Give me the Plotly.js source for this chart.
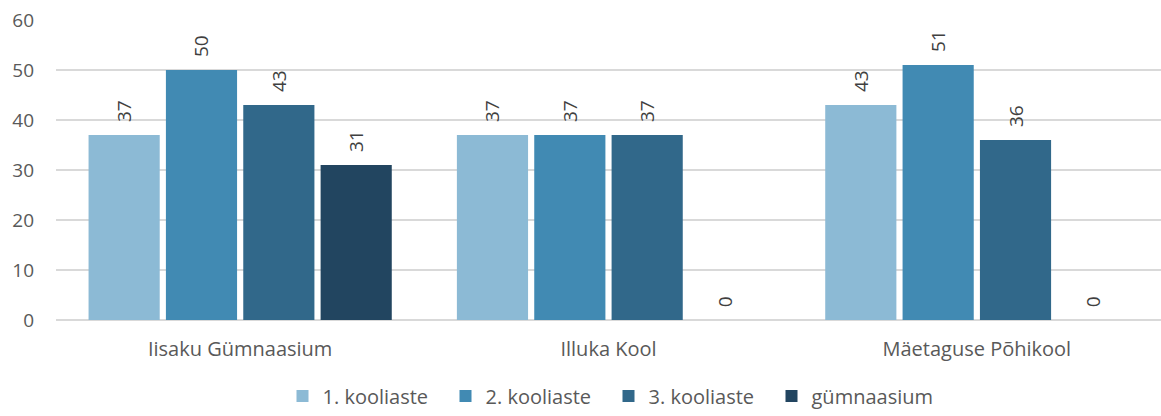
<!DOCTYPE html>
<html><head><meta charset="utf-8">
<script src="https://cdn.plot.ly/plotly-3.0.1.min.js"></script>
<style>html,body{margin:0;padding:0;background:#fff}#c{width:1161px;height:416px}</style>
</head><body><div id="c"></div>
<script>
const categories = ["Iisaku Gümnaasium", "Illuka Kool", "Mäetaguse Põhikool"];
const seriesNames = ["1. kooliaste", "2. kooliaste", "3. kooliaste", "gümnaasium"];
const s1 = [37, 37, 43];
const s2 = [50, 37, 51];
const s3 = [43, 37, 36];
const s4 = [31, 0, 0];
const colors = ["#8cbad5", "#418ab3", "#31688a", "#224560"];
const values = [s1, s2, s3, s4];
const font = "'Open Sans', sans-serif";
const pad = "\u00a0\u00a0";
const traces = values.map((v, i) => ({
  type: "bar", x: categories, y: v, name: seriesNames[i],
  marker: {color: colors[i]},
  text: v.map(n => pad + String(n)), textposition: "outside", textangle: -90,
  textfont: {family: font, size: 19, color: "#404040"},
  cliponaxis: false, hoverinfo: "none"
}));
Plotly.newPlot("c", traces, {
  width: 1161, height: 416,
  margin: {l: 56, r: 0, t: 20, b: 96},
  barmode: "group", bargap: 0.16, bargroupgap: 0.08,
  paper_bgcolor: "#fff", plot_bgcolor: "#fff",
  font: {family: font, size: 19, color: "#595959"},
  xaxis: {showgrid: false, showline: false, ticks: "", ticklabelstandoff: 15,
    tickfont: {size: 20, color: "#595959"}, automargin: false},
  yaxis: {range: [0, 60], dtick: 10, showgrid: true, gridcolor: "#d9d9d9", gridwidth: 1.5,
    zeroline: true, zerolinecolor: "#d9d9d9", zerolinewidth: 1.5, ticks: "", ticklabelstandoff: 21,
    tickfont: {size: 19, color: "#595959"}, automargin: false},
  legend: {orientation: "h", x: 0.5, xanchor: "center", y: -0.318, yanchor: "bottom",
    entrywidth: 118, entrywidthmode: "pixels",
    font: {size: 20, color: "#595959"}, traceorder: "normal"},
  showlegend: true
}, {staticPlot: true});
</script></body></html>
